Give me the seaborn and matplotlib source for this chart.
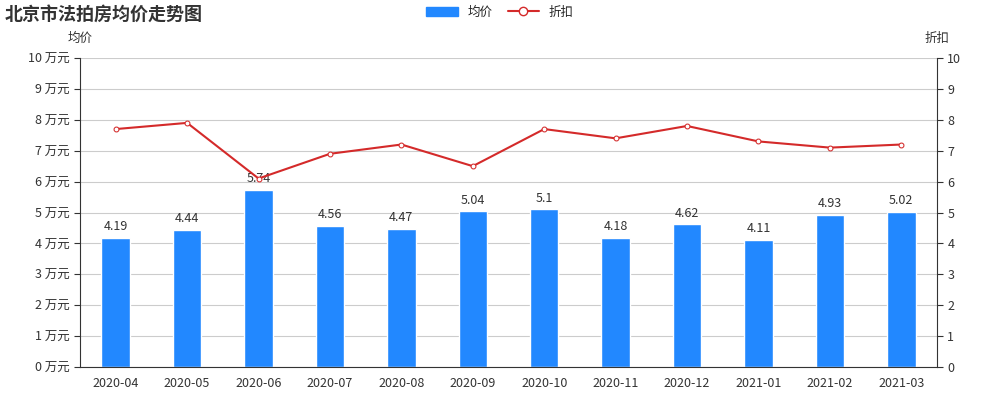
import matplotlib
matplotlib.use("Agg")
import matplotlib.pyplot as plt
import seaborn as sns
import pandas as pd
from matplotlib.lines import Line2D
from matplotlib.patches import Patch

months = ["2020-04","2020-05","2020-06","2020-07","2020-08","2020-09","2020-10","2020-11","2020-12","2021-01","2021-02","2021-03"]
avg_price = [4.19,4.44,5.74,4.56,4.47,5.04,5.1,4.18,4.62,4.11,4.93,5.02]
discount = [7.7,7.9,6.1,6.9,7.2,6.5,7.7,7.4,7.8,7.3,7.1,7.2]
price_labels = ["4.19","4.44","5.74","4.56","4.47","5.04","5.1","4.18","4.62","4.11","4.93","5.02"]

sns.set_style("white")
plt.rcParams['font.family'] = ['Noto Sans CJK SC', 'DejaVu Sans']

df = pd.DataFrame({"month": months, "price": avg_price, "disc": discount})
fig = plt.figure(figsize=(10, 4), dpi=100)
ax = fig.add_axes([0.08, 0.0825, 0.857, 0.7725])
sns.barplot(data=df, x="month", y="price", color="#2288ff", width=0.4, ax=ax, saturation=1)
ax.set_ylim(0, 10)
ax.set_yticks(range(11))
ax.set_yticklabels([f"{i} 万元" for i in range(11)], fontsize=9, color="#333")
ax.yaxis.grid(True, color="#cccccc", lw=0.8)
ax.set_axisbelow(True)
ax.set_xlabel(""); ax.set_ylabel("")
ax.tick_params(axis="x", labelsize=9, colors="#333", length=4, color="#333")
ax.tick_params(axis="y", length=4, color="#333")
for s in ["top", "right"]:
    ax.spines[s].set_visible(False)
for s in ["left", "bottom"]:
    ax.spines[s].set_color("#333")
for i, (v, t) in enumerate(zip(avg_price, price_labels)):
    ax.text(i, v + 0.15, t, ha="center", va="bottom", fontsize=9, color="#333")

ax2 = ax.twinx()
sns.lineplot(x=list(range(len(months))), y=discount, ax=ax2, color="#d42a2a", lw=1.5,
             marker="o", markersize=3.5, markerfacecolor="white", markeredgecolor="#d42a2a")
ax2.set_ylim(0, 10)
ax2.set_yticks(range(11))
ax2.tick_params(axis="y", labelsize=9, colors="#333", length=4)
for s in ["top", "left", "bottom"]:
    ax2.spines[s].set_visible(False)
ax2.spines["right"].set_color("#333")
ax.set_xlim(-0.5, len(months) - 0.5)

fig.text(0.005, 0.965, "北京市法拍房均价走势图", fontsize=13, fontweight="bold", color="#333", va="center")
fig.text(0.068, 0.905, "均价", fontsize=9, color="#333", va="center")
fig.text(0.925, 0.905, "折扣", fontsize=9, color="#333", va="center")
handles = [Patch(color="#2288ff", label="均价"),
           Line2D([0], [0], color="#d42a2a", marker="o", markerfacecolor="white", label="折扣")]
fig.legend(handles=handles, loc="center", bbox_to_anchor=(0.5, 0.97), ncol=2, frameon=False,
           fontsize=9, handlelength=2.5, columnspacing=1.2)
fig.savefig("out.png")
